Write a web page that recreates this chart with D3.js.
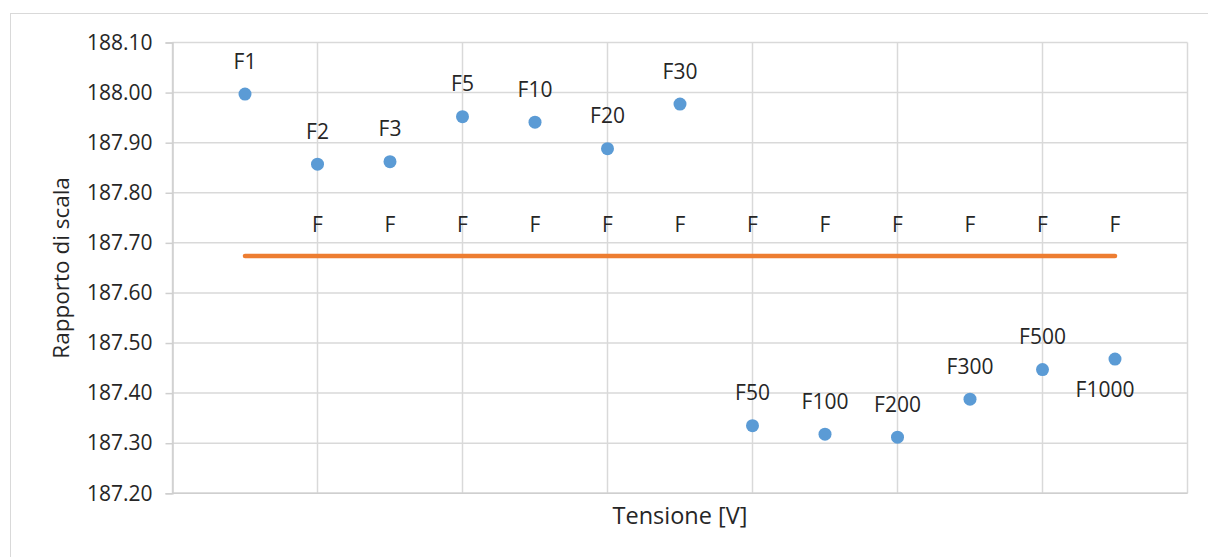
<!DOCTYPE html>
<html>
<head>
<meta charset="utf-8">
<script src="https://cdn.jsdelivr.net/npm/d3@7"></script>
<style>
  html, body { margin: 0; padding: 0; background: #fff; }
  svg { display: block; }
  text { font-family: "Open Sans", "Noto Sans", sans-serif; fill: #262626; }
</style>
</head>
<body>
<svg id="chart" width="1208" height="557"></svg>
<script>
// Misure del rapporto di scala per ciascuna tensione
const positions = [1, 2, 3, 4, 5, 6, 7, 8, 9, 10, 11, 12, 13];
const pointLabels = ["F1", "F2", "F3", "F5", "F10", "F20", "F30", "F50", "F100", "F200", "F300", "F500", "F1000"];
const ratioValues = [187.997, 187.857, 187.862, 187.952, 187.941, 187.888, 187.977,
                     187.335, 187.318, 187.312, 187.388, 187.447, 187.468];
// Valore di riferimento (serie arancione) e relative etichette
const referenceValues = [187.674, 187.674, 187.674, 187.674, 187.674, 187.674, 187.674,
                         187.674, 187.674, 187.674, 187.674, 187.674, 187.674];
const referenceLabels = ["", "F", "F", "F", "F", "F", "F", "F", "F", "F", "F", "F", "F"];
const yTicks = [187.2, 187.3, 187.4, 187.5, 187.6, 187.7, 187.8, 187.9, 188.0, 188.1];
const xGrid = [0, 2, 4, 6, 8, 10, 12, 14];

const svg = d3.select("#chart");
const plot = { left: 172.5, right: 1187.5, top: 42.5, bottom: 493.3 };

const x = d3.scaleLinear().domain([0, 14]).range([plot.left, plot.right]);
const y = d3.scaleLinear().domain([187.2, 188.1]).range([plot.bottom, plot.top]);

// Cornice esterna del grafico
svg.append("rect")
  .attr("x", 10.5).attr("y", 13.5).attr("width", 1220).attr("height", 600)
  .attr("fill", "none").attr("stroke", "#d9d9d9").attr("stroke-width", 1);

// Griglia orizzontale
svg.append("g")
  .selectAll("line").data(yTicks).join("line")
  .attr("x1", plot.left).attr("x2", plot.right)
  .attr("y1", d => y(d)).attr("y2", d => y(d))
  .attr("stroke", "#d9d9d9").attr("stroke-width", 1.5);

// Griglia verticale
svg.append("g")
  .selectAll("line").data(xGrid).join("line")
  .attr("x1", d => x(d)).attr("x2", d => x(d))
  .attr("y1", plot.top).attr("y2", plot.bottom)
  .attr("stroke", "#d9d9d9").attr("stroke-width", 1.5);

// Asse Y con tacche esterne
const yAxis = d3.axisLeft(y).tickValues(yTicks).tickFormat(d3.format(".2f"))
  .tickSize(7).tickPadding(13);
const gy = svg.append("g").attr("transform", `translate(${plot.left},0)`).call(yAxis);
gy.select(".domain").attr("stroke", "#cfcfcf").attr("stroke-width", 1.5);
gy.selectAll(".tick line").attr("stroke", "#cfcfcf").attr("stroke-width", 1.5);
gy.selectAll(".tick text")
  .attr("font-size", 21).attr("font-family", "Open Sans, sans-serif").attr("fill", "#262626");

// Asse X (solo linea)
svg.append("line")
  .attr("x1", plot.left).attr("x2", plot.right)
  .attr("y1", plot.bottom).attr("y2", plot.bottom)
  .attr("stroke", "#cfcfcf").attr("stroke-width", 1.5);

// Linea di riferimento
const line = d3.line().x((d, i) => x(positions[i])).y(d => y(d));
svg.append("path")
  .datum(referenceValues)
  .attr("d", line)
  .attr("fill", "none").attr("stroke", "#ed7d31").attr("stroke-width", 4.5)
  .attr("stroke-linecap", "round");

svg.append("g")
  .selectAll("text").data(referenceValues).join("text")
  .attr("x", (d, i) => x(positions[i]))
  .attr("y", d => y(d) - 24)
  .attr("text-anchor", "middle").attr("font-size", 21)
  .text((d, i) => referenceLabels[i]);

// Punti misurati
svg.append("g")
  .selectAll("circle").data(ratioValues).join("circle")
  .attr("cx", (d, i) => x(positions[i]))
  .attr("cy", d => y(d))
  .attr("r", 6.5)
  .attr("fill", "#5b9bd5");

// Etichette dei punti (l'ultima sotto il punto)
svg.append("g")
  .selectAll("text").data(ratioValues).join("text")
  .attr("x", (d, i) => x(positions[i]) + (i === 12 ? -10 : 0))
  .attr("y", (d, i) => i === 12 ? y(d) + 38 : y(d) - 25.5)
  .attr("text-anchor", "middle").attr("font-size", 21)
  .text((d, i) => pointLabels[i]);

// Titoli degli assi
svg.append("text")
  .attr("x", (plot.left + plot.right) / 2).attr("y", 524)
  .attr("text-anchor", "middle").attr("font-size", 23.5)
  .text("Tensione [V]");

svg.append("text")
  .attr("transform", `translate(69,${(plot.top + plot.bottom) / 2}) rotate(-90)`)
  .attr("text-anchor", "middle").attr("font-size", 22.5)
  .text("Rapporto di scala");
</script>
</body>
</html>
